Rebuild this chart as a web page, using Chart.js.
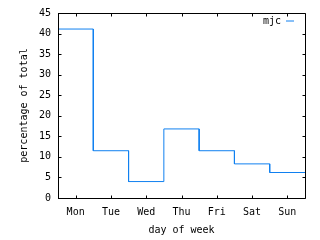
<!DOCTYPE html>
<html>
<head>
<meta charset="utf-8">
<script src="https://cdn.jsdelivr.net/npm/chart.js@4/dist/chart.umd.min.js"></script>
<style>
html,body{margin:0;padding:0;background:#fff;}
canvas{display:block;}
</style>
</head>
<body>
<canvas id="c" width="320" height="240"></canvas>
<script>
// Data
const days = ["Mon", "Tue", "Wed", "Thu", "Fri", "Sat", "Sun"];
const mjcValues = [41.1, 11.5, 4.0, 16.8, 11.5, 8.3, 6.2];
const yTickValues = [0, 5, 10, 15, 20, 25, 30, 35, 40, 45];
const seriesLabel = "mjc";
const xTitle = "day of week";
const yTitle = "percentage of total";

// centred steps (histeps): each category spans from i-0.5 to i+0.5
const stepPoints = [];
mjcValues.forEach((v, i) => {
  stepPoints.push({x: i - 0.5, y: v});
  stepPoints.push({x: i + 0.5, y: v});
});

const FONT = {family: "'DejaVu Sans Mono', 'Liberation Mono', monospace", size: 10};
const TICK = 3;

const framePlugin = {
  id: 'frame',
  afterLayout(chart) {
    const lg = chart.legend;
    const a = chart.chartArea;
    if (lg) {
      const dx = a.right - (lg.left + lg.width);
      lg.left += dx; lg.right = lg.left + lg.width;
      lg.top += 5; lg.bottom += 5;
    }
  },
  afterDatasetsDraw(chart) {
    const ctx = chart.ctx;
    const a = chart.chartArea;
    const xs = chart.scales.x, ys = chart.scales.y;
    ctx.save();
    ctx.strokeStyle = '#000';
    ctx.lineWidth = 1;
    ctx.beginPath();
    ctx.rect(a.left + 0.5, a.top + 0.5, a.right - a.left, a.bottom - a.top);
    ys.ticks.forEach(t => {
      const y = Math.round(ys.getPixelForValue(t.value)) + 0.5;
      ctx.moveTo(a.left, y); ctx.lineTo(a.left + TICK + 0.5, y);
      ctx.moveTo(a.right + 0.5, y); ctx.lineTo(a.right - TICK + 0.5, y);
    });
    xs.ticks.forEach(t => {
      const x = Math.round(xs.getPixelForValue(t.value)) + 0.5;
      ctx.moveTo(x, a.bottom + 0.5); ctx.lineTo(x, a.bottom - TICK + 0.5);
      ctx.moveTo(x, a.top + 0.5); ctx.lineTo(x, a.top + TICK + 0.5);
    });
    ctx.stroke();
    ctx.restore();
  }
};

new Chart(document.getElementById('c'), {
  type: 'line',
  data: {
    datasets: [{
      label: seriesLabel,
      data: stepPoints,
      borderColor: '#1080f0',
      backgroundColor: '#1080f0',
      borderWidth: 1,
      pointRadius: 0,
      tension: 0,
      fill: false
    }]
  },
  options: {
    responsive: false,
    animation: false,
    devicePixelRatio: 1,
    layout: {padding: {left: 0, right: 15, top: 11, bottom: 0}},
    plugins: {
      tooltip: {enabled: false},
      legend: {
        position: 'chartArea',
        align: 'start',
        rtl: true,
        labels: {
          usePointStyle: true,
          pointStyle: 'line',
          pointStyleWidth: 8,
          padding: 11,
          color: '#000',
          font: FONT
        }
      }
    },
    scales: {
      x: {
        type: 'linear',
        min: -0.5,
        max: 6.5,
        afterBuildTicks: s => { s.ticks = days.map((d, i) => ({value: i})); },
        afterFit: s => { s.height = 42; },
        grid: {display: false, drawTicks: false},
        border: {display: false},
        ticks: {
          autoSkip: false, maxRotation: 0, padding: 8, color: '#000', font: FONT,
          callback: v => days[v]
        },
        title: {display: true, text: xTitle, color: '#000', font: FONT, padding: {top: 0, bottom: 4}}
      },
      y: {
        min: 0,
        max: 45,
        afterBuildTicks: s => { s.ticks = yTickValues.map(v => ({value: v})); },
        afterFit: s => { s.width = 58; },
        grid: {display: false, drawTicks: false},
        border: {display: false},
        ticks: {padding: 7, color: '#000', font: FONT},
        title: {display: true, text: yTitle, color: '#000', font: FONT, padding: {top: 18, bottom: 0}}
      }
    }
  },
  plugins: [framePlugin]
});
</script>
</body>
</html>
